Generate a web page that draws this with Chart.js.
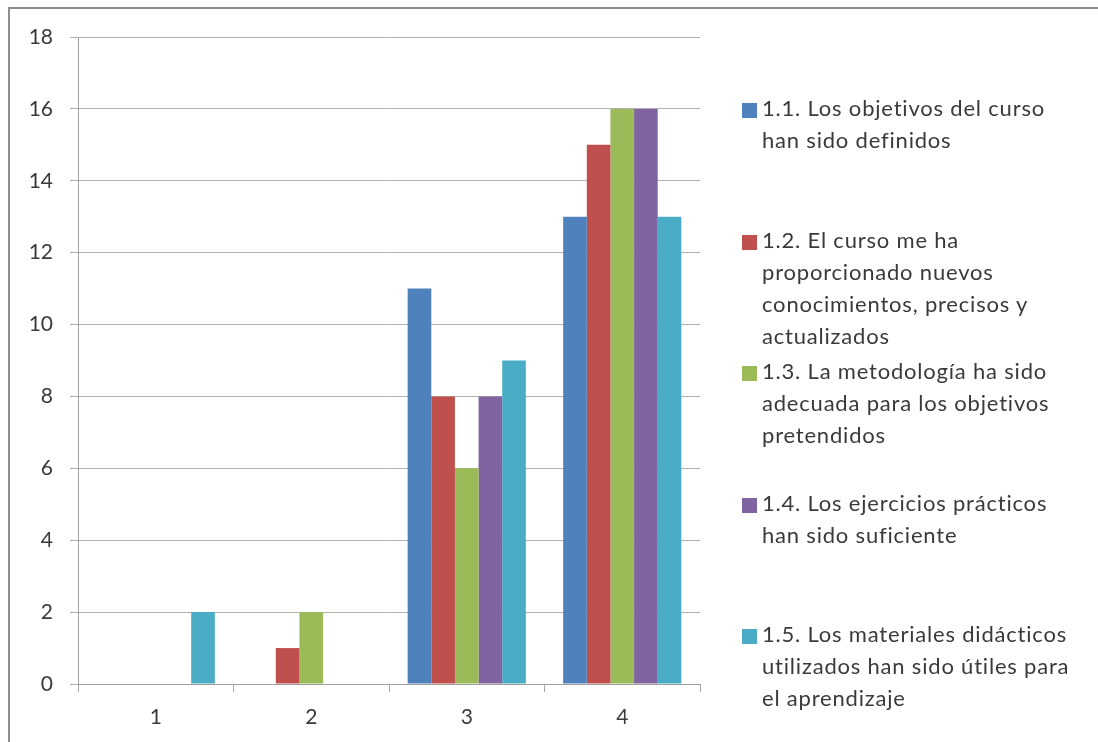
<!DOCTYPE html>
<html>
<head>
<meta charset="utf-8">
<script src="https://cdn.jsdelivr.net/npm/chart.js@4/dist/chart.umd.min.js"></script>
<style>
  html, body { margin: 0; padding: 0; background: #fff; overflow: hidden; }
  body { width: 1098px; height: 742px; position: relative; font-family: Lato, "Open Sans", sans-serif; }
  #frame { position: absolute; left: 8px; top: 7px; width: 2000px; height: 2000px; border: 2px solid #8e8e8e; box-sizing: border-box; }
  #wrap { position: absolute; left: 0; top: 0; width: 1098px; height: 742px; }
  #legend { position: absolute; left: 0; top: 0; }
  .item { position: absolute; left: 742px; }
  .sw { position: absolute; left: 0; top: 11px; width: 15px; height: 15px; }
  .txt { position: absolute; left: 20px; top: 0; white-space: nowrap; font-size: 22px; letter-spacing: 0.8px; line-height: 32px; color: #3a3a3a; }
</style>
</head>
<body>
<div id="frame"></div>
<div id="wrap"><canvas id="c" width="1098" height="742"></canvas></div>
<div id="legend"></div>
<script>
const categories = ["1", "2", "3", "4"];
const yTicks = [0, 2, 4, 6, 8, 10, 12, 14, 16, 18];
const legendLines = [
  ["1.1. Los objetivos del curso", "han sido definidos"],
  ["1.2. El curso me ha", "proporcionado nuevos", "conocimientos, precisos y", "actualizados"],
  ["1.3. La metodología ha sido", "adecuada para los objetivos", "pretendidos"],
  ["1.4. Los ejercicios prácticos", "han sido suficiente"],
  ["1.5. Los materiales didácticos", "utilizados han sido útiles para", "el aprendizaje"]
];
const s11 = [0, 0, 11, 13];
const s12 = [0, 1, 8, 15];
const s13 = [0, 2, 6, 16];
const s14 = [0, 0, 8, 16];
const s15 = [2, 0, 9, 13];
const colors = ["#4F81BD", "#C0504D", "#9BBB59", "#8064A2", "#4BACC6"];
const seriesValues = [s11, s12, s13, s14, s15];

const datasets = seriesValues.map((vals, i) => ({
  label: legendLines[i].join(" "),
  data: vals,
  backgroundColor: colors[i],
  borderWidth: 0,
  categoryPercentage: 0.76,
  barPercentage: 1.0
}));

const tickFont = { family: "Lato, 'Open Sans', sans-serif", size: 21 };

new Chart(document.getElementById("c"), {
  type: "bar",
  data: { labels: categories, datasets },
  options: {
    responsive: false,
    animation: false,
    layout: { padding: { left: 10, right: 398, top: 37, bottom: 0 } },
    plugins: { legend: { display: false }, tooltip: { enabled: false } },
    scales: {
      x: {
        grid: { drawOnChartArea: false, drawTicks: true, tickLength: 8, color: "#a6a6a6", offset: true },
        border: { color: "#a0a0a0", width: 1 },
        ticks: { font: tickFont, color: "#3a3a3a", padding: 13 },
        afterFit: s => { s.height = 58; }
      },
      y: {
        min: 0, max: 18,
        afterBuildTicks: s => { s.ticks = yTicks.map(v => ({ value: v })); },
        grid: { color: "#b0b0b0", tickLength: 8, drawTicks: true },
        border: { color: "#a0a0a0", width: 1 },
        ticks: { font: tickFont, color: "#3a3a3a", padding: 17 },
        afterFit: s => { s.width = 68; }
      }
    }
  }
});

const leg = document.getElementById("legend");
legendLines.forEach((lines, i) => {
  const item = document.createElement("div");
  item.className = "item";
  item.style.top = (92 + i * 131.5) + "px";
  const sw = document.createElement("div");
  sw.className = "sw";
  sw.style.background = colors[i];
  const txt = document.createElement("div");
  txt.className = "txt";
  txt.innerHTML = lines.map(l => l.replace(/&/g, "&amp;").replace(/</g, "&lt;")).join("<br>");
  item.appendChild(sw);
  item.appendChild(txt);
  leg.appendChild(item);
});
</script>
</body>
</html>
